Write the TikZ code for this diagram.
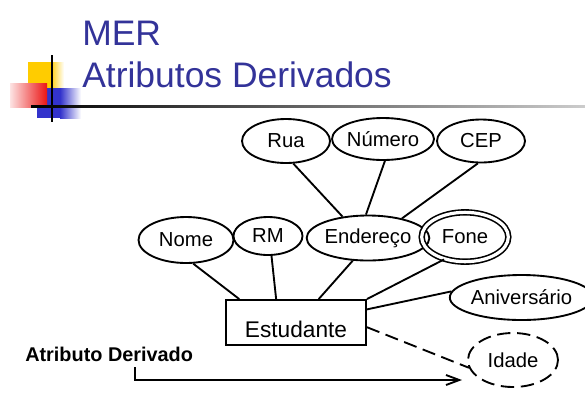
\documentclass[tikz,border=0pt]{standalone}
\usepackage{fontspec}
\setmainfont{Liberation Sans}
\usepackage{tikz}
\usetikzlibrary{shapes.geometric,arrows.meta,calc}
\definecolor{titleblue}{RGB}{51,51,153}
\definecolor{logoyellow}{RGB}{255,204,0}
\definecolor{logored}{RGB}{235,20,20}
\definecolor{logoblue}{RGB}{51,51,204}

\begin{document}
\begin{tikzpicture}[x=0.75pt,y=-0.75pt,
		titletext/.style={anchor=base west,inner sep=0pt,text=titleblue,font=\fontsize{26.6}{30}\selectfont},
		attr/.style={draw,ellipse,line width=1.4pt,inner sep=0pt,font=\fontsize{15.2}{17}\selectfont},
		multi/.style={attr,double,double distance=2.4pt,line width=1.2pt},
		derived/.style={attr,dash pattern=on 10pt off 5pt},
		ent/.style={draw,rectangle,line width=1.4pt,inner sep=0pt,minimum width=105pt,minimum height=33.75pt,text height=21.75pt,text depth=0pt,font=\fontsize{17}{20}\selectfont},
		link/.style={line width=1.4pt}]
		\useasboundingbox (0,0) rectangle (585,405);
		\fill[logoyellow] (28,62) rectangle (50,90);
		\shade[left color=logoyellow,right color=white] (50,62) rectangle (64,90);
		\fill[logoblue] (37,88) rectangle (60,118);
		\shade[left color=logoblue,right color=white] (60,88) rectangle (81,118);
		\shade[left color=logored!12,right color=logored] (10,83) rectangle (47,107);
		\draw[line width=1.2pt] (52,55) -- (52,122);
		\shade[left color=black,right color=black!20] (31,105.8) rectangle (585,107.6);
		\node[titletext] (mer) at (82,45) {MER};
		\node[titletext] (sub) at (82,87.5) {Atributos Derivados};
		\node[attr,minimum width=66pt,minimum height=33pt] (rua) at (286,141) {Rua};
		\node[attr,minimum width=66.75pt,minimum height=31.5pt] (num) at (383,139) {Número};
		\node[attr,minimum width=66pt,minimum height=32.25pt] (cep) at (481,141) {CEP};
		\node[attr,minimum width=71.25pt,minimum height=34.5pt] (nome) at (186,240) {Nome};
		\node[attr,minimum width=51.75pt,minimum height=28.5pt] (rm) at (268,236) {RM};
		\node[attr,minimum width=67.5pt,minimum height=33.75pt] (end) at (368,238) {Endereço};
		\node[multi,minimum width=65pt,minimum height=37pt] (fone) at (465,237) {Fone};
		\node[attr,minimum width=78.75pt,minimum height=33.75pt] (aniv) at (521.5,297.5) {Aniversário};
		\node[derived,minimum width=67.5pt,minimum height=40.5pt] (idade) at (513,360) {Idade};
		\node[ent] (est) at (296,322.5) {Estudante};
		\draw[link] (rua.-72) -- (end.140);
		\draw[link] (num.-85) -- (end.95);
		\draw[link] (cep.-98) -- (end.30);
		\draw[link] (nome.-73) -- ($(est.north west)!0.1!(est.north east)$);
		\draw[link] (rm.-80) -- ($(est.north west)!0.36!(est.north east)$);
		\draw[link] (end.-124) -- ($(est.north west)!0.66!(est.north east)$);
		\draw[link] (fone.-133) -- (est.north east);
		\draw[link] (aniv.175) -- ($(est.north east)!0.22!(est.south east)$);
		\draw[link,dash pattern=on 10pt off 5pt] ($(est.north east)!0.6!(est.south east)$) -- (idade.190);
		\node[anchor=base west,inner xsep=0pt,inner ysep=4.5pt,font=\bfseries\fontsize{14.9}{17}\selectfont] (lbl) at (25,361) {Atributo Derivado};
		\coordinate (tip) at (462,380);
		\draw[link,-{Straight Barb[length=10pt,width=7.5pt]}] ($(lbl.south west)!0.655!(lbl.south east)$) |- (tip);
	\end{tikzpicture}
\end{document}
